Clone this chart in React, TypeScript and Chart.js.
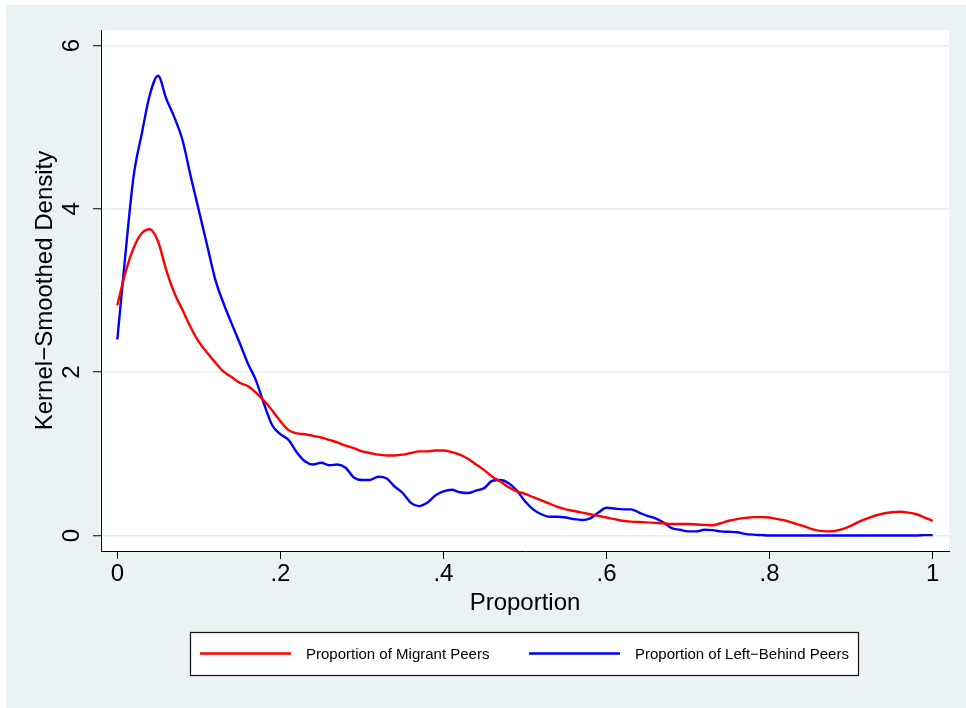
import React, { useEffect, useRef } from "react";
import { Chart, registerables } from "chart.js";

Chart.register(...registerables);

// ---------- data ----------
const proportion = [
  0.0, 0.01, 0.02, 0.03, 0.04, 0.05, 0.06, 0.07, 0.08, 0.09,
  0.1, 0.11, 0.12, 0.13, 0.14, 0.15, 0.16, 0.17, 0.18, 0.19,
  0.2, 0.21, 0.22, 0.23, 0.24, 0.25, 0.26, 0.27, 0.28, 0.29,
  0.3, 0.31, 0.32, 0.33, 0.34, 0.35, 0.36, 0.37, 0.38, 0.39,
  0.4, 0.41, 0.42, 0.43, 0.44, 0.45, 0.46, 0.47, 0.48, 0.49,
  0.5, 0.51, 0.52, 0.53, 0.54, 0.55, 0.56, 0.57, 0.58, 0.59,
  0.6, 0.61, 0.62, 0.63, 0.64, 0.65, 0.66, 0.67, 0.68, 0.69,
  0.7, 0.71, 0.72, 0.73, 0.74, 0.75, 0.76, 0.77, 0.78, 0.79,
  0.8, 0.81, 0.82, 0.83, 0.84, 0.85, 0.86, 0.87, 0.88, 0.89,
  0.9, 0.91, 0.92, 0.93, 0.94, 0.95, 0.96, 0.97, 0.98, 0.99,
  1.0,
];

const migrantDensity = [
  2.82, 3.22, 3.52, 3.7, 3.75, 3.6, 3.25, 2.97, 2.76, 2.55,
  2.37, 2.24, 2.12, 2.01, 1.94, 1.87, 1.83, 1.75, 1.65, 1.53,
  1.4, 1.29, 1.25, 1.24, 1.22, 1.2, 1.17, 1.14, 1.1, 1.07,
  1.03, 1.01, 0.99, 0.98, 0.98, 0.99, 1.01, 1.03, 1.03, 1.04,
  1.04, 1.02, 0.99, 0.94, 0.87, 0.8, 0.72, 0.66, 0.59, 0.54,
  0.51, 0.47, 0.43, 0.39, 0.35, 0.32, 0.3, 0.28, 0.26, 0.24,
  0.22, 0.2, 0.18, 0.17, 0.165, 0.16, 0.155, 0.15, 0.14, 0.14,
  0.14, 0.135, 0.13, 0.125, 0.15, 0.18, 0.2, 0.215, 0.225, 0.225,
  0.22, 0.2, 0.18, 0.15, 0.12, 0.085, 0.06, 0.05, 0.055, 0.08,
  0.12, 0.17, 0.21, 0.245, 0.27, 0.285, 0.29, 0.28, 0.26, 0.22,
  0.18,
];

const leftBehindDensity = [
  2.4, 3.45, 4.4, 4.92, 5.4, 5.63, 5.35, 5.12, 4.84, 4.4,
  3.98, 3.56, 3.14, 2.85, 2.6, 2.36, 2.11, 1.9, 1.61, 1.35,
  1.24, 1.17, 1.02, 0.91, 0.87, 0.89, 0.86, 0.87, 0.83, 0.71,
  0.68, 0.68, 0.72, 0.7, 0.6, 0.52, 0.4, 0.36, 0.4, 0.49,
  0.54, 0.56, 0.53, 0.52, 0.55, 0.58, 0.67, 0.68, 0.64, 0.55,
  0.42, 0.32, 0.26, 0.23, 0.23, 0.22, 0.2, 0.19, 0.21, 0.28,
  0.34, 0.33, 0.32, 0.32, 0.28, 0.24, 0.21, 0.16, 0.09, 0.07,
  0.05, 0.05, 0.07, 0.065, 0.05, 0.045, 0.04, 0.02, 0.01, 0.005,
  0.0, 0.0, 0.0, 0.0, 0.0, 0.0, 0.0, 0.0, 0.0, 0.0,
  0.0, 0.0, 0.0, 0.0, 0.0, 0.0, 0.0, 0.0, 0.0, 0.005,
  0.005,
];

const seriesLabels = ["Proportion of Migrant Peers", "Proportion of Left\u2212Behind Peers"];
const seriesColors = ["#ff0000", "#0000ff"];
const xTickValues = [0, 0.2, 0.4, 0.6, 0.8, 1];
const xTickLabels = ["0", ".2", ".4", ".6", ".8", "1"];
const yTickValues = [0, 2, 4, 6];
const yTickLabels = ["0", "2", "4", "6"];
const xTitle = "Proportion";
const yTitle = "Kernel\u2212Smoothed Density";

// ---------- styles ----------
const FONT = '"Liberation Sans", Arial, Helvetica, sans-serif';
const OUTER_BG = "#eaf2f3";
const GRID = "#e6eef0";

const backgroundPlugin = {
  id: "stataBackground",
  beforeDraw(chart: any) {
    const { ctx, width, height, chartArea } = chart;
    ctx.save();
    ctx.fillStyle = "#ffffff";
    ctx.fillRect(0, 0, width, height);
    ctx.fillStyle = OUTER_BG;
    ctx.fillRect(6, 5, width - 6, height - 5);
    ctx.fillStyle = "#ffffff";
    ctx.fillRect(chartArea.left - 1, chartArea.top, chartArea.right - chartArea.left + 1, chartArea.bottom - chartArea.top);
    ctx.restore();
  },
};

const legendPlugin = {
  id: "stataLegend",
  afterDraw(chart: any) {
    const { ctx, chartArea } = chart;
    const boxW = 669;
    const boxH = 44;
    const top = 632;
    const cx = (chartArea.left - 1 + chartArea.right) / 2;
    const left = Math.round(cx - boxW / 2);
    ctx.save();
    ctx.fillStyle = "#ffffff";
    ctx.fillRect(left, top, boxW, boxH);
    ctx.strokeStyle = "#111111";
    ctx.lineWidth = 1.2;
    ctx.strokeRect(left + 0.5, top + 0.5, boxW - 1, boxH - 1);
    const keyOffsets = [10, 339];
    const keyLen = 91;
    const gap = 15;
    const ky = top + 21.5;
    chart.data.datasets.forEach((ds: any, i: number) => {
      const kx = left + keyOffsets[i];
      ctx.strokeStyle = ds.borderColor;
      ctx.lineWidth = 2.4;
      ctx.beginPath();
      ctx.moveTo(kx, ky);
      ctx.lineTo(kx + keyLen, ky);
      ctx.stroke();
      ctx.fillStyle = "#000000";
      ctx.font = `15px ${FONT}`;
      ctx.textAlign = "left";
      ctx.textBaseline = "middle";
      ctx.fillText(ds.label, kx + keyLen + gap, ky + 1);
    });
    ctx.restore();
  },
};

export default function App() {
  const canvasRef = useRef<HTMLCanvasElement | null>(null);

  useEffect(() => {
    const canvas = canvasRef.current;
    if (!canvas) return;
    const series = [migrantDensity, leftBehindDensity];
    const chart = new Chart(canvas, {
      type: "line",
      data: {
        datasets: series.map((vals, si) => ({
          label: seriesLabels[si],
          data: proportion.map((x, i) => ({ x, y: vals[i] })),
          borderColor: seriesColors[si],
          backgroundColor: seriesColors[si],
          borderWidth: 2.4,
          pointRadius: 0,
          cubicInterpolationMode: "monotone",
          fill: false,
        })),
      },
      options: {
        responsive: false,
        animation: false,
        devicePixelRatio: 1,
        layout: { padding: { top: 30, right: 17, left: 0, bottom: 0 } },
        plugins: {
          legend: { display: false },
          tooltip: { enabled: false },
        },
        scales: {
          x: {
            type: "linear",
            min: -0.02,
            max: 1.02,
            afterBuildTicks: (s: any) => {
              s.ticks = xTickValues.map((v) => ({ value: v }));
            },
            afterFit: (s: any) => {
              s.height = 157;
            },
            ticks: {
              autoSkip: false,
              maxRotation: 0,
              minRotation: 0,
              padding: 1,
              color: "#000",
              font: { family: FONT, size: 24 },
              callback: (v: any) => xTickLabels[xTickValues.indexOf(Number(v))] ?? "",
            },
            grid: {
              drawOnChartArea: false,
              drawTicks: true,
              tickLength: 8,
              tickColor: "#000",
              tickWidth: 1,
            },
            border: { display: true, color: "#000", width: 1 },
            title: {
              display: true,
              text: xTitle,
              color: "#000",
              font: { family: FONT, size: 24 },
              padding: { top: 0, bottom: 90 },
            },
          },
          y: {
            type: "linear",
            min: -0.19,
            max: 6.19,
            afterBuildTicks: (s: any) => {
              s.ticks = yTickValues.map((v) => ({ value: v }));
            },
            afterFit: (s: any) => {
              s.width = 101;
            },
            ticks: {
              autoSkip: false,
              minRotation: 90,
              maxRotation: 90,
              crossAlign: "center",
              padding: 14,
              color: "#000",
              font: { family: FONT, size: 24 },
              callback: (v: any) => yTickLabels[yTickValues.indexOf(Number(v))] ?? "",
            },
            grid: {
              color: GRID,
              lineWidth: 1.5,
              drawTicks: true,
              tickLength: 8,
              tickColor: "#000",
              tickWidth: 1,
            },
            border: { display: true, color: "#000", width: 1 },
            title: {
              display: true,
              text: yTitle,
              color: "#000",
              font: { family: FONT, size: 24 },
              padding: { top: 31, bottom: 0 },
            },
          },
        },
      } as any,
      plugins: [backgroundPlugin, legendPlugin],
    });
    return () => chart.destroy();
  }, []);

  return (
    <div style={{ position: "absolute", left: 0, top: 0, width: 966, height: 708 }}>
      <canvas ref={canvasRef} width={966} height={708} style={{ display: "block", width: 966, height: 708 }} />
    </div>
  );
}
